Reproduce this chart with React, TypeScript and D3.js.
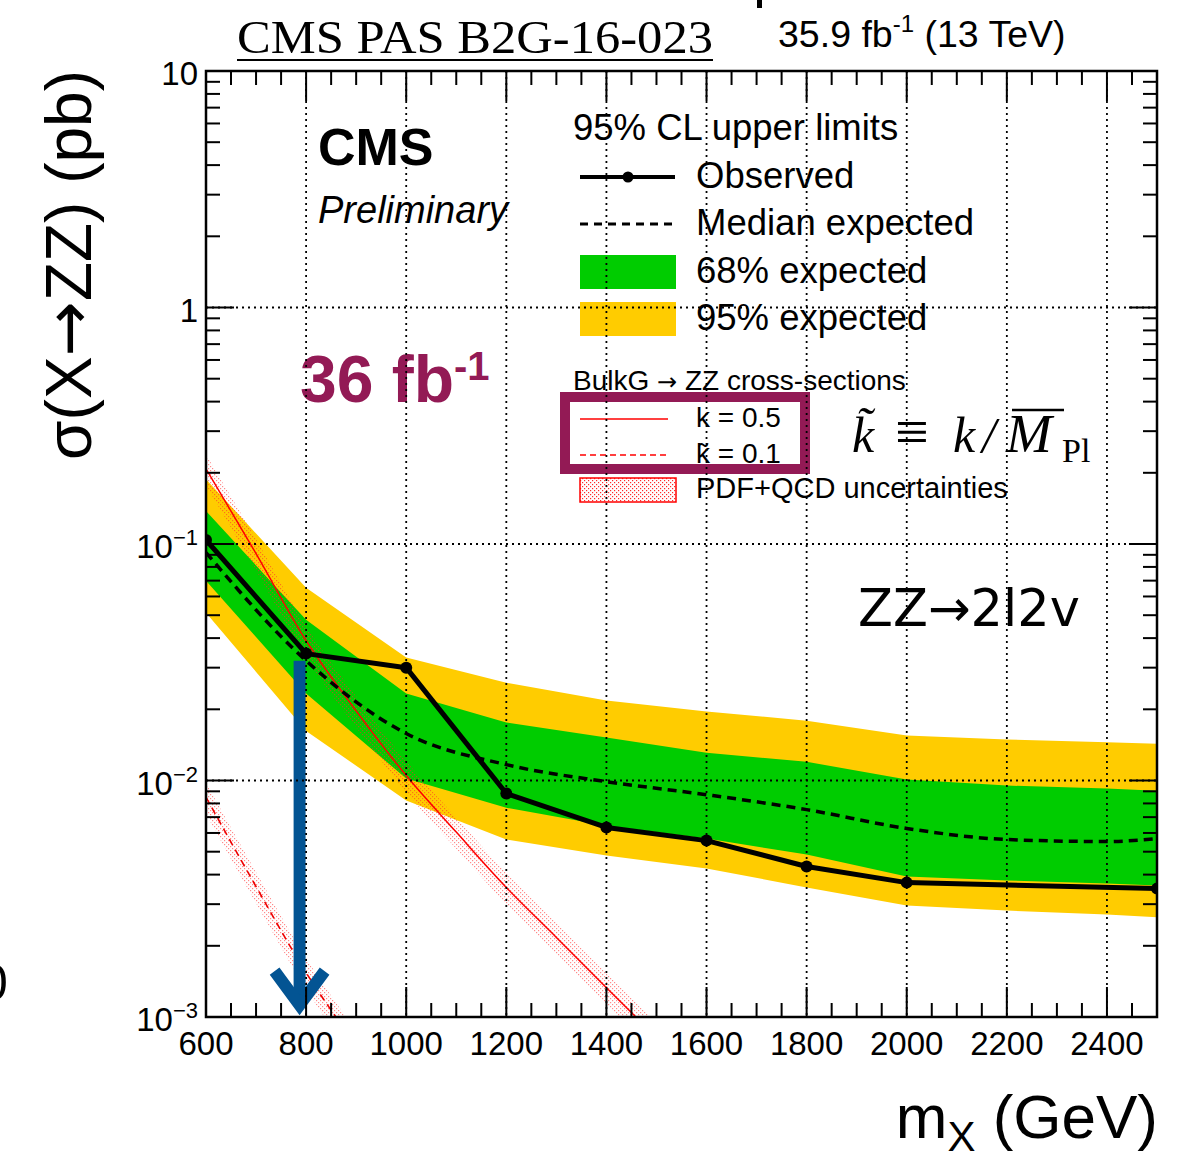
import React from 'react';
import * as d3 from 'd3';

// ---------- data ----------
const obsMasses = [600, 800, 1000, 1200, 1400, 1600, 1800, 2000, 2500];
const observed = [0.104, 0.0344, 0.0300, 0.00881, 0.00633, 0.00557, 0.00433, 0.00370, 0.00349];

const expMasses = [600, 800, 1000, 1200, 1400, 1600, 1800, 2000, 2200, 2400, 2500];
const expected = [0.092, 0.0321, 0.0158, 0.01167, 0.00989, 0.00871, 0.00753, 0.00627, 0.00563, 0.00552, 0.00568];
const exp68Up = [0.138, 0.0478, 0.0233, 0.0176, 0.0152, 0.0131, 0.0120, 0.0101, 0.00952, 0.00924, 0.00906];
const exp68Down = [0.070, 0.0233, 0.0102, 0.00767, 0.00644, 0.00568, 0.00486, 0.00393, 0.00378, 0.00367, 0.00360];
const exp95Up = [0.188, 0.0653, 0.0331, 0.0259, 0.0218, 0.0196, 0.0179, 0.0155, 0.0149, 0.0145, 0.0143];
const exp95Down = [0.0512, 0.0162, 0.00823, 0.00563, 0.00482, 0.00425, 0.00353, 0.00296, 0.00282, 0.00271, 0.00264];

const xsecMasses = [600, 700, 800, 900, 1000, 1100, 1200, 1300, 1400, 1500];
const xsecK05 = [0.208, 0.091, 0.039, 0.0197, 0.0105, 0.00605, 0.00353, 0.00217, 0.00133, 0.00082];
const xsecK01Masses = [600, 700, 800, 900];
const xsecK01 = [0.0085, 0.00356, 0.00154, 0.00076];
const xsecRelUnc = 0.15;

const xTickLabels = ['600', '800', '1000', '1200', '1400', '1600', '1800', '2000', '2200', '2400'];
const xTickValues = [600, 800, 1000, 1200, 1400, 1600, 1800, 2000, 2200, 2400];
const yTickValues = [10, 1, 0.1, 0.01, 0.001];
const yTickBase = ['10', '1', '10', '10', '10'];
const yTickExp = ['', '', '−1', '−2', '−3'];

// arrow annotation (data coordinates)
const arrowMass = 787;
const arrowTop = 0.0321;
const arrowTip = 0.00108;

// ---------- layout ----------
const W = 1189, H = 1158;
const L = 206, R = 1157, T = 71, B = 1017;
const SANS = "'Liberation Sans', Arial, Helvetica, sans-serif";
const SERIF = "'Liberation Serif', 'Times New Roman', serif";
const DEJAVU = "'DejaVu Sans', sans-serif";
const PURPLE = '#931a55';
const GREEN = '#00cc00';
const YELLOW = '#ffcc00';
const BLUE = '#035493';

export default function App() {
  const x = d3.scaleLinear().domain([600, 2500]).range([L, R]);
  const y = d3.scaleLog().domain([1e-3, 10]).range([B, T]);

  const bandData = expMasses.map((m, i) => ({ m, e: expected[i], u68: exp68Up[i], d68: exp68Down[i], u95: exp95Up[i], d95: exp95Down[i] }));
  const area95 = d3.area<any>().x(d => x(d.m)).y0(d => y(d.d95)).y1(d => y(d.u95))(bandData) || '';
  const area68 = d3.area<any>().x(d => x(d.m)).y0(d => y(d.d68)).y1(d => y(d.u68))(bandData) || '';
  const expLine = d3.line<any>().x(d => x(d.m)).y(d => y(d.e)).curve(d3.curveMonotoneX)(bandData) || '';
  const obsData = obsMasses.map((m, i) => ({ m, v: observed[i] }));
  const obsLine = d3.line<any>().x(d => x(d.m)).y(d => y(d.v))(obsData) || '';

  const k05 = xsecMasses.map((m, i) => ({ m, v: xsecK05[i] }));
  const k01 = xsecK01Masses.map((m, i) => ({ m, v: xsecK01[i] }));
  const xl = d3.line<any>().x(d => x(d.m)).y(d => y(d.v)).curve(d3.curveMonotoneX);
  const xa = d3.area<any>().x(d => x(d.m)).y0(d => y(d.v * (1 - xsecRelUnc))).y1(d => y(d.v * (1 + xsecRelUnc))).curve(d3.curveMonotoneX);

  const xMinor = d3.range(600, 2501, 50);
  const yMinor: number[] = [];
  for (let e = -3; e <= 0; e++) for (let k = 1; k <= 9; k++) yMinor.push(k * Math.pow(10, e));
  yMinor.push(10);

  const dotted = { stroke: '#000', strokeWidth: 1.8, strokeDasharray: '2 4' };

  return (
    <svg width={W} height={H} style={{ position: 'absolute', left: 0, top: 0, display: 'block', background: '#fff' }}>
      <defs>
        <clipPath id="plot"><rect x={L} y={T} width={R - L} height={B - T} /></clipPath>
        <pattern id="dots" width="4" height="4" patternUnits="userSpaceOnUse">
          <rect x="0" y="0" width="1.2" height="1.2" fill="#ff2a2a" />
          <rect x="2" y="2" width="1.2" height="1.2" fill="#ff2a2a" />
        </pattern>
      </defs>
      <rect x={0} y={0} width={W} height={H} fill="#fff" />

      {/* stray fragments at edges */}
      <rect x={757} y={0} width={5} height={8} fill="#000" />
      <text x={-20} y={1000} fontFamily={SANS} fontSize={50} fill="#000">0</text>

      {/* title */}
      <text x={237} y={53} fontFamily={SERIF} fontSize={46} textLength={476} lengthAdjust="spacingAndGlyphs" fill="#000">CMS PAS B2G-16-023</text>
      <line x1={237} x2={713} y1={60} y2={60} stroke="#000" strokeWidth={2} />
      <text x={778} y={47} fontFamily={SANS} fontSize={37.5} fill="#000">
        35.9 fb<tspan fontSize={24} dy={-15}>-1</tspan><tspan dy={15}> (13 TeV)</tspan>
      </text>

      <g clipPath="url(#plot)">
        <path d={area95} fill={YELLOW} />
        <path d={area68} fill={GREEN} />
        <path d={xa(k05) || ''} fill="url(#dots)" opacity={0.55} />
        <path d={xa(k01) || ''} fill="url(#dots)" opacity={0.55} />
        <path d={xl(k05) || ''} fill="none" stroke="#ff0000" strokeWidth={1.5} />
        <path d={xl(k01) || ''} fill="none" stroke="#ee0000" strokeWidth={1.6} strokeDasharray="7 5" />
        <path d={expLine} fill="none" stroke="#000" strokeWidth={3.5} strokeDasharray="9 6" />
        <path d={obsLine} fill="none" stroke="#000" strokeWidth={5} strokeLinejoin="round" />
        {obsData.map((d, i) => <circle key={i} cx={x(d.m)} cy={y(d.v)} r={6} fill="#000" />)}
      </g>

      {/* CMS labels */}
      <text x={318} y={165} fontFamily={SANS} fontSize={52} fontWeight="bold" fill="#000">CMS</text>
      <text x={318} y={223} fontFamily={SANS} fontSize={38} fontStyle="italic" fill="#000">Preliminary</text>
      <text x={300} y={402} fontFamily={SANS} fontSize={66} fontWeight="bold" fill={PURPLE}>
        36 fb<tspan fontSize={40} dy={-22}>-1</tspan>
      </text>

      {/* legend */}
      <text x={573} y={140} fontFamily={SANS} fontSize={36.5} fill="#000">95% CL upper limits</text>
      <line x1={580} x2={675} y1={177} y2={177} stroke="#000" strokeWidth={4} />
      <circle cx={628} cy={177} r={5.5} fill="#000" />
      <text x={696} y={188} fontFamily={SANS} fontSize={36.5} fill="#000">Observed</text>
      <line x1={580} x2={675} y1={224} y2={224} stroke="#000" strokeWidth={3} strokeDasharray="8 6" />
      <text x={696} y={235} fontFamily={SANS} fontSize={36.5} fill="#000">Median expected</text>
      <rect x={580} y={255} width={96} height={34} fill={GREEN} />
      <text x={696} y={283} fontFamily={SANS} fontSize={36.5} fill="#000">68% expected</text>
      <rect x={580} y={302} width={96} height={34} fill={YELLOW} />
      <text x={696} y={330} fontFamily={SANS} fontSize={36.5} fill="#000">95% expected</text>

      <text x={573} y={390} fontFamily={SANS} fontSize={28} fill="#000">BulkG <tspan fontFamily={DEJAVU} fontSize={24}>→</tspan> ZZ cross-sections</text>
      <line x1={580} x2={668} y1={419} y2={419} stroke="#ff0000" strokeWidth={1.5} />
      <text x={696} y={427} fontFamily={SANS} fontSize={28} fill="#000">k = 0.5</text>
      <line x1={580} x2={668} y1={455} y2={455} stroke="#ff0000" strokeWidth={1.5} strokeDasharray="6 4" />
      <text x={696} y={463} fontFamily={SANS} fontSize={28} fill="#000">k̃ = 0.1</text>
      <rect x={580} y={478} width={96} height={24} fill="url(#dots)" stroke="#ff0000" strokeWidth={1.5} />
      <text x={696} y={498} fontFamily={SANS} fontSize={29} fill="#000">PDF+QCD uncertainties</text>

      {/* purple box */}
      <rect x={565} y={397} width={240} height={72} fill="none" stroke={PURPLE} strokeWidth={10} />

      {/* k-tilde definition */}
      <text y={452} fontFamily={SERIF} fontSize={50} fill="#000">
        <tspan x={852} fontStyle="italic">k̃</tspan>
        <tspan x={895} fontSize={60}>≡</tspan>
        <tspan x={953} fontStyle="italic">k</tspan>
        <tspan x={982} fontStyle="italic">/</tspan>
        <tspan x={1006} fontStyle="italic" fontSize={55}>M</tspan>
        <tspan x={1062} fontSize={34} dy={10}>Pl</tspan>
      </text>
      <line x1={1012} x2={1064} y1={410} y2={410} stroke="#000" strokeWidth={2.5} />

      <text x={858} y={626} fontFamily={DEJAVU} fontSize={51} fill="#000">ZZ→2l2v</text>

      {/* blue arrow */}
      <g stroke={BLUE} strokeWidth={12} fill="none">
        <line x1={x(arrowMass)} x2={x(arrowMass)} y1={y(arrowTop)} y2={y(arrowTip) - 8} />
        <polyline points={`${x(arrowMass) - 25},${y(arrowTip) - 38} ${x(arrowMass)},${y(arrowTip) - 4} ${x(arrowMass) + 25},${y(arrowTip) - 38}`} strokeLinejoin="miter" />
      </g>

      {/* grid */}
      <g>
        {xTickValues.filter(v => v > 600).map(v => <line key={'gx' + v} x1={x(v)} x2={x(v)} y1={T} y2={B} {...dotted} />)}
        {[1, 0.1, 0.01].map(v => <line key={'gy' + v} x1={L} x2={R} y1={y(v)} y2={y(v)} {...dotted} />)}
      </g>

      {/* ticks */}
      <g stroke="#000" strokeWidth={2}>
        {xMinor.map(v => {
          const len = (v - 600) % 200 === 0 ? 30 : 14;
          return (
            <g key={'xt' + v}>
              <line x1={x(v)} x2={x(v)} y1={B} y2={B - len} />
              <line x1={x(v)} x2={x(v)} y1={T} y2={T + len} />
            </g>
          );
        })}
        {yMinor.map(v => {
          const lg = Math.log10(v);
          const len = Math.abs(lg - Math.round(lg)) < 1e-9 ? 28 : 14;
          return (
            <g key={'yt' + v}>
              <line x1={L} x2={L + len} y1={y(v)} y2={y(v)} />
              <line x1={R} x2={R - len} y1={y(v)} y2={y(v)} />
            </g>
          );
        })}
      </g>
      <rect x={L} y={T} width={R - L} height={B - T} fill="none" stroke="#000" strokeWidth={2.5} />

      {/* tick labels */}
      {xTickValues.map((v, i) => (
        <text key={'xl' + v} x={x(v)} y={1055} textAnchor="middle" fontFamily={SANS} fontSize={33} fill="#000">{xTickLabels[i]}</text>
      ))}
      {yTickValues.map((v, i) => (
        <text key={'yl' + v} x={198} y={y(v) + 14} textAnchor="end" fontFamily={SANS} fontSize={33} fill="#000">
          {yTickBase[i]}{yTickExp[i] ? <tspan fontSize={22} dy={-13}>{yTickExp[i]}</tspan> : null}
        </text>
      ))}

      {/* axis titles */}
      <text transform="translate(91,70) rotate(-90)" textAnchor="end" fontFamily={SANS} fontSize={64} fill="#000">
        σ(X<tspan fontFamily={DEJAVU} fontSize={66}>→</tspan>ZZ) (pb)
      </text>
      <text x={1158} y={1138} textAnchor="end" fontFamily={SANS} fontSize={62} fill="#000">
        m<tspan fontSize={42} dy={13}>X</tspan><tspan dy={-13}> (GeV)</tspan>
      </text>
    </svg>
  );
}
